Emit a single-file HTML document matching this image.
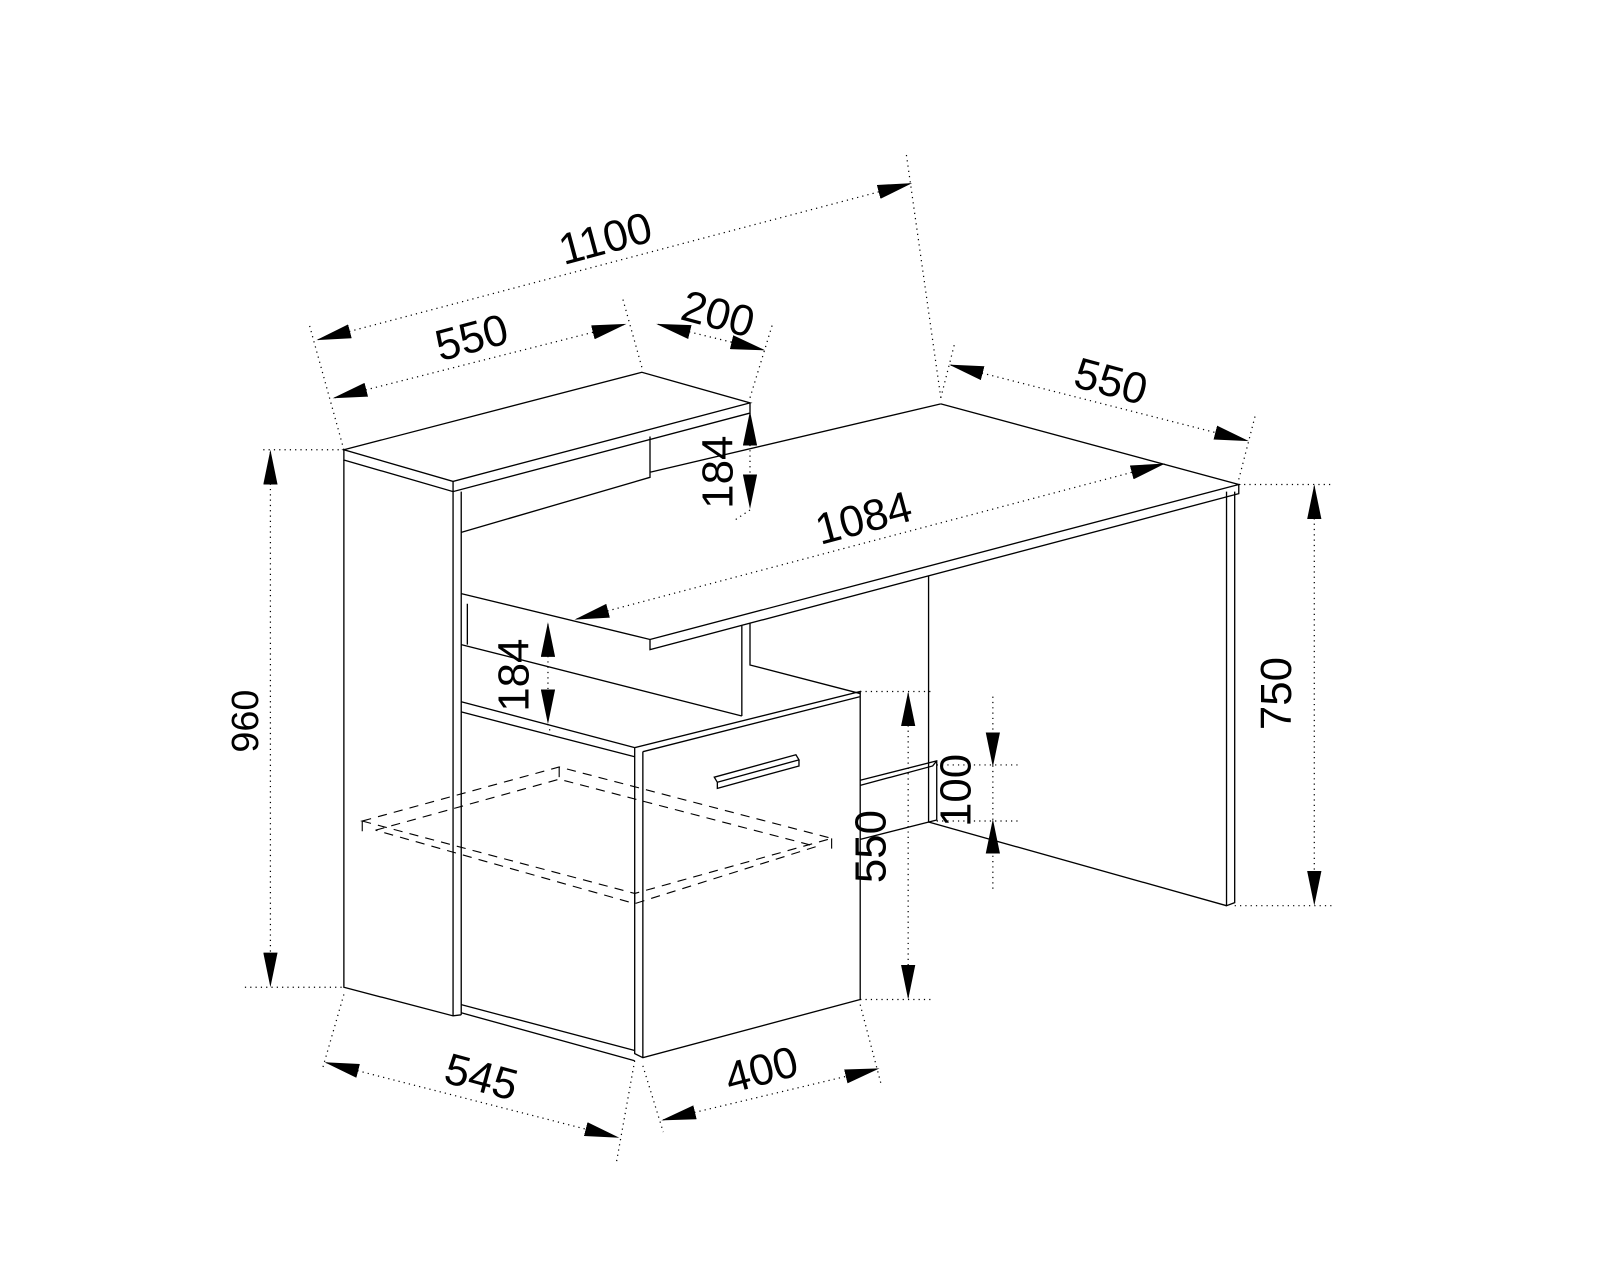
<!DOCTYPE html>
<html><head><meta charset="utf-8"><style>
html,body{margin:0;padding:0;background:#fff;}
svg{display:block;}
text{font-family:"Liberation Sans",sans-serif;font-size:43px;fill:#000;}
</style></head><body>
<svg width="1600" height="1280" viewBox="0 0 1568 1255" preserveAspectRatio="none" xmlns="http://www.w3.org/2000/svg">
<defs>
<marker id="a" markerUnits="userSpaceOnUse" markerWidth="34" markerHeight="14" refX="32" refY="7" orient="auto-start-reverse" viewBox="0 0 34 14">
<path d="M0,0 L34,7 L0,14 Z" fill="#000"/></marker>
</defs>
<g fill="none" stroke="#000" stroke-width="1.3">
<path d="M337,441 L629,365 L735,395 L444,472 Z"/>
<path d="M337,441 L337,451 L444,482 L735,405 L735,395 M444,472 L444,482"/>
<path d="M337,451 L337,968 L444,996 L452,995 M444,482 L444,996 M452,482 L452,995"/>
<path d="M637,428 L637,468 L452,522 M637,463 L922,396"/>
<path d="M452,582 L637,627 L1214,475 L922,396 M637,627 L637,637 L1214,484 L1214,475"/>
<path d="M458,592 L458,632 M452,632 L727,702"/>
<path d="M727,613 L727,702 M735,611 L735,652 L843,680"/>
<path d="M1202,482 L1202,888 L1210,885 L1210,482 M910,565 L910,806 L1202,888"/>
<path d="M843,765 L918,746 L918,804 L843,823 M843,770 L914,751 L918,746"/>
<path d="M452,688 L622,733 M452,698 L622,742"/>
<path d="M622,733 L843,678 L843,980 L630,1037 L622,1033 L622,733 M630,737 L843,683 M630,737 L630,1037"/>
<path d="M452,985 L622,1030 M452,993 L622,1040"/>
<path d="M700,762 L780,740 L783,745 L703,767 Z M703,767 L703,773 L783,751 L783,745"/>
</g>
<g fill="none" stroke="#000" stroke-width="1.1" stroke-dasharray="9 7">
<path d="M355,805 L548,752 L815,822 L622,876 Z"/>
<path d="M368,814 L548,764 L800,830 L622,886 L368,814"/>
</g>
<g stroke="#000" stroke-width="1.1"><path d="M355,805 L355,815 M815,822 L815,832 M548,752 L548,762 M622,876 L622,886"/></g>
<g fill="none" stroke="#000" stroke-width="1.2" stroke-dasharray="1.2 4">
<path d="M337,441 L303,318 M922,390 L888,150 M629,360 L610,292 M735,390 L757,318"/>
<path d="M922,390 L936,335 M1214,470 L1230,408"/>
<path d="M258,441 L337,441 M240,968 L337,968 M1214,475 L1305,475 M1210,888 L1305,888"/>
<path d="M843,678 L915,678 M843,980 L915,980 M918,750 L1000,750 M918,805 L1000,805"/>
<path d="M337,975 L316,1048 M622,1040 L604,1140 M630,1045 L650,1110 M843,985 L864,1065"/>
<path d="M735,500 L720,510 M537,710 L540,720"/>
<path d="M973,683 L973,875"/>
</g>
<g fill="none" stroke="#000" stroke-width="1.2" stroke-dasharray="1.2 4" marker-start="url(#a)" marker-end="url(#a)">
<path d="M312,333 L892,180"/>
<path d="M328,390 L612,318"/>
<path d="M645,318 L748,343"/>
<path d="M932,358 L1222,432"/>
<path d="M565,607 L1140,455"/>
<path d="M265,443 L265,966"/>
<path d="M1288,477 L1288,886"/>
<path d="M890,680 L890,978"/>
<path d="M320,1042 L605,1115"/>
<path d="M650,1098 L860,1048"/>
<path d="M735,405 L735,497"/>
<path d="M537,612 L537,708"/>
</g>
<path d="M973,700 L973,750" stroke="none" fill="none" marker-end="url(#a)"/>
<path d="M973,855 L973,805" stroke="none" fill="none" marker-end="url(#a)"/>
<text x="597" y="248" text-anchor="middle" transform="rotate(-15 597 248)">1100</text>
<text x="466" y="345" text-anchor="middle" transform="rotate(-15 466 345)">550</text>
<text x="700" y="322" text-anchor="middle" transform="rotate(15 700 322)">200</text>
<text x="1085" y="388" text-anchor="middle" transform="rotate(15 1085 388)">550</text>
<text x="850" y="522" text-anchor="middle" transform="rotate(-15 850 522)">1084</text>
<text x="718" y="463" text-anchor="middle" transform="rotate(-90 718 463)">184</text>
<text x="518" y="662" text-anchor="middle" transform="rotate(-90 518 662)">184</text>
<text x="253" y="707" text-anchor="middle" transform="rotate(-90 253 707)" style="font-size:37px">960</text>
<text x="1265" y="680" text-anchor="middle" transform="rotate(-90 1265 680)">750</text>
<text x="868" y="830" text-anchor="middle" transform="rotate(-90 868 830)">550</text>
<text x="951" y="775" text-anchor="middle" transform="rotate(-90 951 775)">100</text>
<text x="468" y="1070" text-anchor="middle" transform="rotate(15 468 1070)">545</text>
<text x="750" y="1063" text-anchor="middle" transform="rotate(-15 750 1063)">400</text>
</svg>
</body></html>
